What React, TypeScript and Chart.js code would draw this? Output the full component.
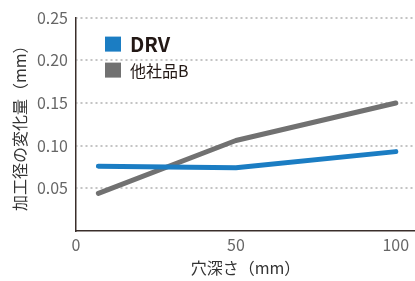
import React, { useEffect, useRef } from "react";
import { Chart, registerables } from "chart.js";

Chart.register(...registerables);

const depths = [7, 50, 100];
const drvValues = [0.076, 0.074, 0.093];
const otherValues = [0.044, 0.106, 0.15];
const seriesNames = ["DRV", "他社品B"];
const seriesColors = ["#1b7dc3", "#717171"];
const xTicks = [0, 50, 100];
const yTicks = [0.05, 0.1, 0.15, 0.2, 0.25];
const xTitle = "穴深さ（mm）";
const yTitle = "加工径の変化量（mm）";

const FONT = '"Noto Sans CJK JP", "Noto Sans", sans-serif';

const insideLegend = {
  id: "insideLegend",
  afterDatasetsDraw(chart: any) {
    const ctx = chart.ctx;
    const { left, top } = chart.chartArea;
    chart.data.datasets.forEach((ds: any, i: number) => {
      const x = left + 29;
      const y = top + 19 + i * 26;
      ctx.save();
      ctx.fillStyle = ds.borderColor;
      ctx.fillRect(x, y, 16, 15);
      ctx.font = i === 0 ? `bold 20px ${FONT}` : `16px ${FONT}`;
      ctx.fillStyle = "#231815";
      ctx.textBaseline = "middle";
      ctx.textAlign = "left";
      ctx.fillText(ds.label, x + 25, y + 8);
      ctx.restore();
    });
  },
};

export default function App() {
  const ref = useRef<HTMLCanvasElement | null>(null);
  useEffect(() => {
    if (!ref.current) return;
    const series = [drvValues, otherValues];
    const chart = new Chart(ref.current, {
      type: "line",
      data: {
        datasets: series.map((vals, i) => ({
          label: seriesNames[i],
          data: depths.map((d, j) => ({ x: d, y: vals[j] })),
          borderColor: seriesColors[i],
          backgroundColor: seriesColors[i],
          borderWidth: 5,
          borderCapStyle: "round",
          borderJoinStyle: "round",
          pointRadius: 0,
          tension: 0,
          fill: false,
          order: i,
        })),
      },
      options: {
        animation: false,
        responsive: false,
        layout: { padding: { top: 16, right: 0, left: 0, bottom: 0 } },
        plugins: { legend: { display: false }, tooltip: { enabled: false } },
        scales: {
          x: {
            type: "linear",
            min: 0,
            max: 106,
            afterBuildTicks: (s: any) => {
              s.ticks = xTicks.map((v) => ({ value: v }));
            },
            afterFit: (s: any) => {
              s.height = 50;
            },
            grid: { display: false, drawTicks: false },
            border: { display: true, color: "#3a2e2b", width: 1.5 },
            ticks: {
              color: "#666",
              font: { family: FONT, size: 16 },
              padding: 4,
              maxRotation: 0,
              callback: (v: any) => String(v),
            },
            title: {
              display: true,
              text: xTitle,
              color: "#333",
              font: { family: FONT, size: 16 },
              padding: { top: 0, bottom: 3 },
            },
          },
          y: {
            min: 0,
            max: 0.25,
            afterBuildTicks: (s: any) => {
              s.ticks = yTicks.map((v) => ({ value: v }));
            },
            afterFit: (s: any) => {
              s.width = 76;
            },
            grid: {
              color: "#c4c4c4",
              lineWidth: 2,
              drawTicks: false,
            },
            border: { display: true, color: "#3a2e2b", width: 1.5, dash: [2, 3], dashOffset: -4 },
            ticks: {
              color: "#666",
              font: { family: FONT, size: 16 },
              padding: 8,
              callback: (v: any) => Number(v).toFixed(2),
            },
            title: {
              display: true,
              text: yTitle,
              color: "#333",
              font: { family: FONT, size: 16 },
              padding: { top: 10, bottom: 0 },
            },
          },
        },
      },
      plugins: [insideLegend],
    } as any);
    return () => chart.destroy();
  }, []);
  return (
    <div style={{ position: "absolute", left: 0, top: 0, width: 415, height: 281, background: "#fff" }}>
      <canvas ref={ref} width={415} height={281} />
    </div>
  );
}
